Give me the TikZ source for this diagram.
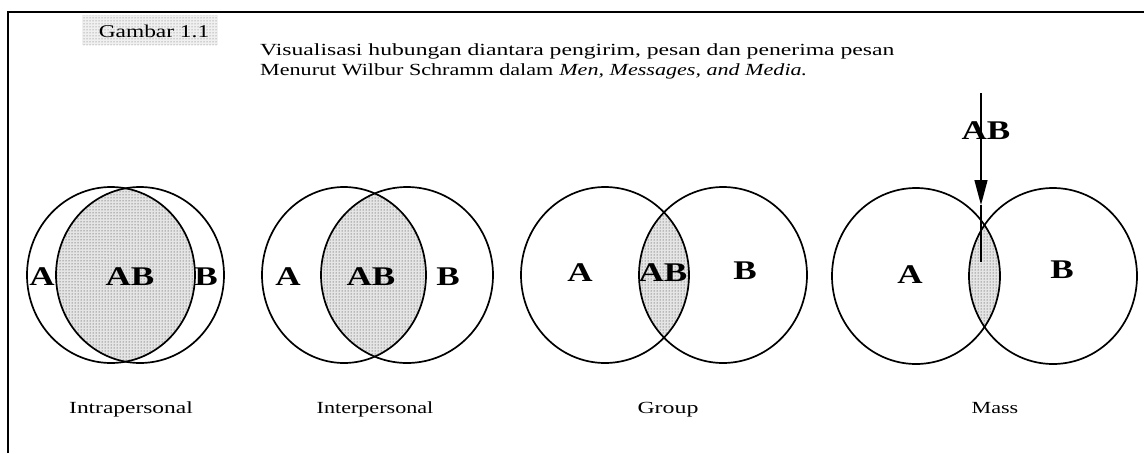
\documentclass[tikz,border=0pt]{standalone}
\usepackage{fontspec}
\setmainfont[FakeStretch=1.3]{Liberation Serif}
\usetikzlibrary{patterns,arrows.meta}
\begin{document}
\begin{tikzpicture}[x=1pt,y=-1pt,
  circ/.style={line width=1.7pt},
  lbl/.style={font=\fontsize{27}{27}\selectfont\bfseries, inner sep=0pt},
  captxt/.style={font=\fontsize{17}{20}\selectfont, anchor=base, inner sep=0pt},
  dotfill/.style={pattern=dots, pattern color=black!85},
  greyfill/.style={fill=black!10},
]
\useasboundingbox (0,0) rectangle (1144,453);
\fill[white] (0,0) rectangle (1144,453);
% frame
\draw[line width=1.5pt] (8,453) -- (8,12) -- (1144,12);
% heading
\fill[black!6] (82,15) rectangle (218,45);
\fill[pattern=dots, pattern color=black!60] (82,15) rectangle (218,45);
\node[captxt, font=\fontsize{18}{20}\selectfont] (gambar) at (154,37) {Gambar 1.1};
\node[captxt, anchor=base west] (t1) at (260,55) {\scalebox{1.07}[1]{Visualisasi hubungan diantara pengirim, pesan dan penerima pesan}};
\node[captxt, anchor=base west] (t2) at (260,75) {Menurut Wilbur Schramm dalam\hspace{6pt}\textit{Men, Messages, and Media.}};

% ---------- Intrapersonal
\coordinate (iA) at (111,275);
\coordinate (iB) at (140,275);
\begin{scope}
  \clip (iA) ellipse [x radius=84pt, y radius=88pt];
  \fill[greyfill] (iB) ellipse [x radius=84pt, y radius=88pt];
  \fill[dotfill] (iB) ellipse [x radius=84pt, y radius=88pt];
\end{scope}
\draw[circ] (iA) ellipse [x radius=84pt, y radius=88pt];
\draw[circ] (iB) ellipse [x radius=84pt, y radius=88pt];
\node[lbl] (iLA) at (42,277) {A};
\node[lbl] (iLAB) at (130,277) {AB};
\node[lbl] (iLB) at (206,277) {B};
\node[captxt] (iCap) at (131,413) {\scalebox{1.06}[1]{Intrapersonal}};

% ---------- Interpersonal
\coordinate (pA) at (344,275);
\coordinate (pB) at (407,275);
\begin{scope}
  \clip (pA) ellipse [x radius=82pt, y radius=88pt];
  \fill[greyfill] (pB) ellipse [x radius=86pt, y radius=88pt];
  \fill[dotfill] (pB) ellipse [x radius=86pt, y radius=88pt];
\end{scope}
\draw[circ] (pA) ellipse [x radius=82pt, y radius=88pt];
\draw[circ] (pB) ellipse [x radius=86pt, y radius=88pt];
\node[lbl] (pLA) at (288,277) {A};
\node[lbl] (pLAB) at (371,277) {AB};
\node[lbl] (pLB) at (448,277) {B};
\node[captxt] (pCap) at (375,413) {Interpersonal};

% ---------- Group
\coordinate (gA) at (605,275);
\coordinate (gB) at (723,275);
\begin{scope}
  \clip (gA) ellipse [x radius=84pt, y radius=88pt];
  \fill[greyfill] (gB) ellipse [x radius=84pt, y radius=88pt];
  \fill[dotfill] (gB) ellipse [x radius=84pt, y radius=88pt];
\end{scope}
\draw[circ] (gA) ellipse [x radius=84pt, y radius=88pt];
\draw[circ] (gB) ellipse [x radius=84pt, y radius=88pt];
\node[lbl] (gLA) at (580,273) {A};
\node[lbl] (gLAB) at (663,273) {AB};
\node[lbl] (gLB) at (745,271) {B};
\node[captxt] (gCap) at (668,413) {\scalebox{1.08}[1]{Group}};

% ---------- Mass
\coordinate (mA) at (916,276);
\coordinate (mB) at (1053,276);
\begin{scope}
  \clip (mA) ellipse [x radius=84pt, y radius=88pt];
  \fill[greyfill] (mB) ellipse [x radius=84pt, y radius=88pt];
  \fill[dotfill] (mB) ellipse [x radius=84pt, y radius=88pt];
\end{scope}
\draw[circ] (mA) ellipse [x radius=84pt, y radius=88pt];
\draw[circ] (mB) ellipse [x radius=84pt, y radius=88pt];
\node[lbl] (mLA) at (910,275) {A};
\node[lbl] (mLB) at (1062,270) {B};
\node[lbl] (mLAB) at (986,131) {AB};
\coordinate (arrTop) at (981,93);
\coordinate (arrTip) at (981,205);
\coordinate (arrEnd) at (981,262);
\draw[line width=1.3pt, -{Triangle[length=25pt,width=13pt]}] (arrTop) -- (arrTip);
\draw[line width=1.3pt] (arrTip) -- (arrEnd);
\node[captxt] (mCap) at (995,413) {Mass};
\end{tikzpicture}
\end{document}
